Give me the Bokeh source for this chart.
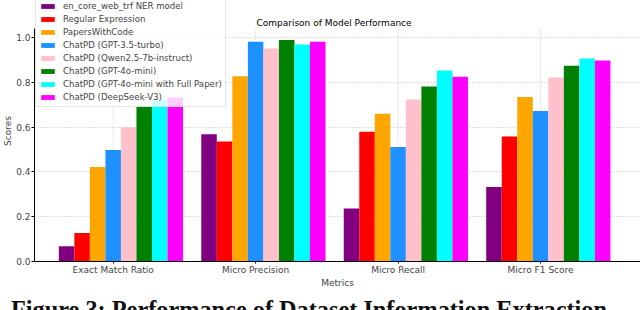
import math
from bokeh.plotting import figure
from bokeh.layouts import column
from bokeh.models import (Range1d, FixedTicker, NumeralTickFormatter, Legend,
                          LegendItem, Label, Div)
from bokeh.embed import file_html
from bokeh.resources import INLINE

# ---- data ----
metrics = ["Exact Match Ratio", "Micro Precision", "Micro Recall", "Micro F1 Score"]
models = [
    "en_core_web_trf NER model",
    "Regular Expression",
    "PapersWithCode",
    "ChatPD (GPT-3.5-turbo)",
    "ChatPD (Qwen2.5-7b-instruct)",
    "ChatPD (GPT-4o-mini)",
    "ChatPD (GPT-4o-mini with Full Paper)",
    "ChatPD (DeepSeek-V3)",
]
spacy_ner = [0.068, 0.569, 0.237, 0.333]
regex = [0.127, 0.536, 0.580, 0.558]
paperswithcode = [0.422, 0.828, 0.660, 0.735]
gpt35 = [0.498, 0.982, 0.512, 0.672]
qwen = [0.600, 0.952, 0.724, 0.822]
gpt4omini = [0.692, 0.989, 0.782, 0.874]
gpt4omini_full = [0.723, 0.969, 0.853, 0.907]
deepseek = [0.733, 0.982, 0.825, 0.898]
series = [spacy_ner, regex, paperswithcode, gpt35, qwen, gpt4omini, gpt4omini_full, deepseek]
colors = ["#800080", "#ff0000", "#ffa500", "#1e90ff", "#ffc0cb", "#008000", "#00ffff", "#ff00ff"]
y_ticks = [0.0, 0.2, 0.4, 0.6, 0.8, 1.0]
axes_top = 1.04          # upper limit of the matplotlib-style axes box
title_text = "Comparison of Model Performance"
caption_text = "Figure 3: Performance of Dataset Information Extraction"

bar_w = 0.109
FONT = "DejaVu Sans"
GRID = "#b0b0b0"

p = figure(width=640, height=290, output_backend="svg", toolbar_location=None,
           x_range=Range1d(-0.5522, 3.7015), y_range=Range1d(0, 1.166),
           min_border_left=33, min_border_right=0, min_border_top=0,
           min_border_bottom=28)
p.outline_line_color = None
p.background_fill_color = "white"
p.border_fill_color = "white"

# vertical (category) grid lines, limited to the axes box
cat_idx = list(range(len(metrics)))
p.segment(x0=cat_idx, y0=[0] * len(cat_idx), x1=cat_idx, y1=[axes_top] * len(cat_idx),
          line_color=GRID, line_dash="1 2", line_width=0.8, level="underlay")

renderers = []
for i, (vals, col) in enumerate(zip(series, colors)):
    xs = [k + (i - 3) * bar_w for k in cat_idx]
    r = p.vbar(x=xs, top=vals, width=bar_w, bottom=0, fill_color=col, line_color=None)
    renderers.append(r)

# axes
xa = p.xaxis[0]
xa.ticker = FixedTicker(ticks=cat_idx)
xa.major_label_overrides = {k: m for k, m in enumerate(metrics)}
xa.axis_label = "Metrics"
xa.axis_label_text_font = FONT
xa.axis_label_text_font_size = "9px"
xa.axis_label_text_font_style = "normal"
xa.axis_label_standoff = 0
xa.major_label_text_font = FONT
xa.major_label_text_font_size = "9px"
xa.major_label_standoff = 1
xa.major_tick_out = 2
xa.major_tick_in = 0
xa.minor_tick_out = 0
xa.minor_tick_in = 0
xa.axis_line_color = "black"

ya = p.yaxis[0]
ya.ticker = FixedTicker(ticks=y_ticks)
ya.formatter = NumeralTickFormatter(format="0.0")
ya.bounds = (0, axes_top)
ya.axis_label = "Scores"
ya.axis_label_text_font = FONT
ya.axis_label_text_font_size = "9px"
ya.axis_label_text_font_style = "normal"
ya.axis_label_standoff = 0
ya.major_label_text_font = FONT
ya.major_label_text_font_size = "9px"
ya.major_label_standoff = 1
ya.major_tick_out = 3
ya.major_tick_in = 0
ya.minor_tick_out = 0
ya.minor_tick_in = 0
ya.axis_line_color = "black"

p.xgrid.visible = False
g = p.ygrid[0]
g.ticker = FixedTicker(ticks=y_ticks)
g.grid_line_color = GRID
g.grid_line_dash = "1 2"
g.grid_line_width = 0.8

# chart title (inside the frame area, above the axes box)
p.add_layout(Label(x=1.55, y=1.065, text=title_text, text_align="center",
                   text_baseline="middle", text_font=FONT, text_font_size="9px",
                   text_color="black"))

# legend
legend = Legend(items=[LegendItem(label=m, renderers=[r]) for m, r in zip(models, renderers)],
                location=(1, 154), margin=0, padding=3, spacing=1,
                label_height=12, glyph_height=6, glyph_width=17, label_standoff=7,
                label_text_font=FONT, label_text_font_size="8.6px",
                background_fill_color="white", background_fill_alpha=0.8,
                border_line_color="#cccccc", border_line_width=1)
p.add_layout(legend)

# paper caption, cut off at the bottom as in the source image
caption = Div(
    text=('<div style="font-family:\'Liberation Serif\';font-weight:bold;font-size:24.3px;'
          'line-height:24px;padding:3px 0 0 6px;white-space:nowrap;color:#111111;">'
          + caption_text + '</div>'),
    width=640, height=20, styles={"overflow": "hidden"})

layout = column(p, caption, spacing=0)
open("out.html", "w").write(file_html(layout, INLINE))
